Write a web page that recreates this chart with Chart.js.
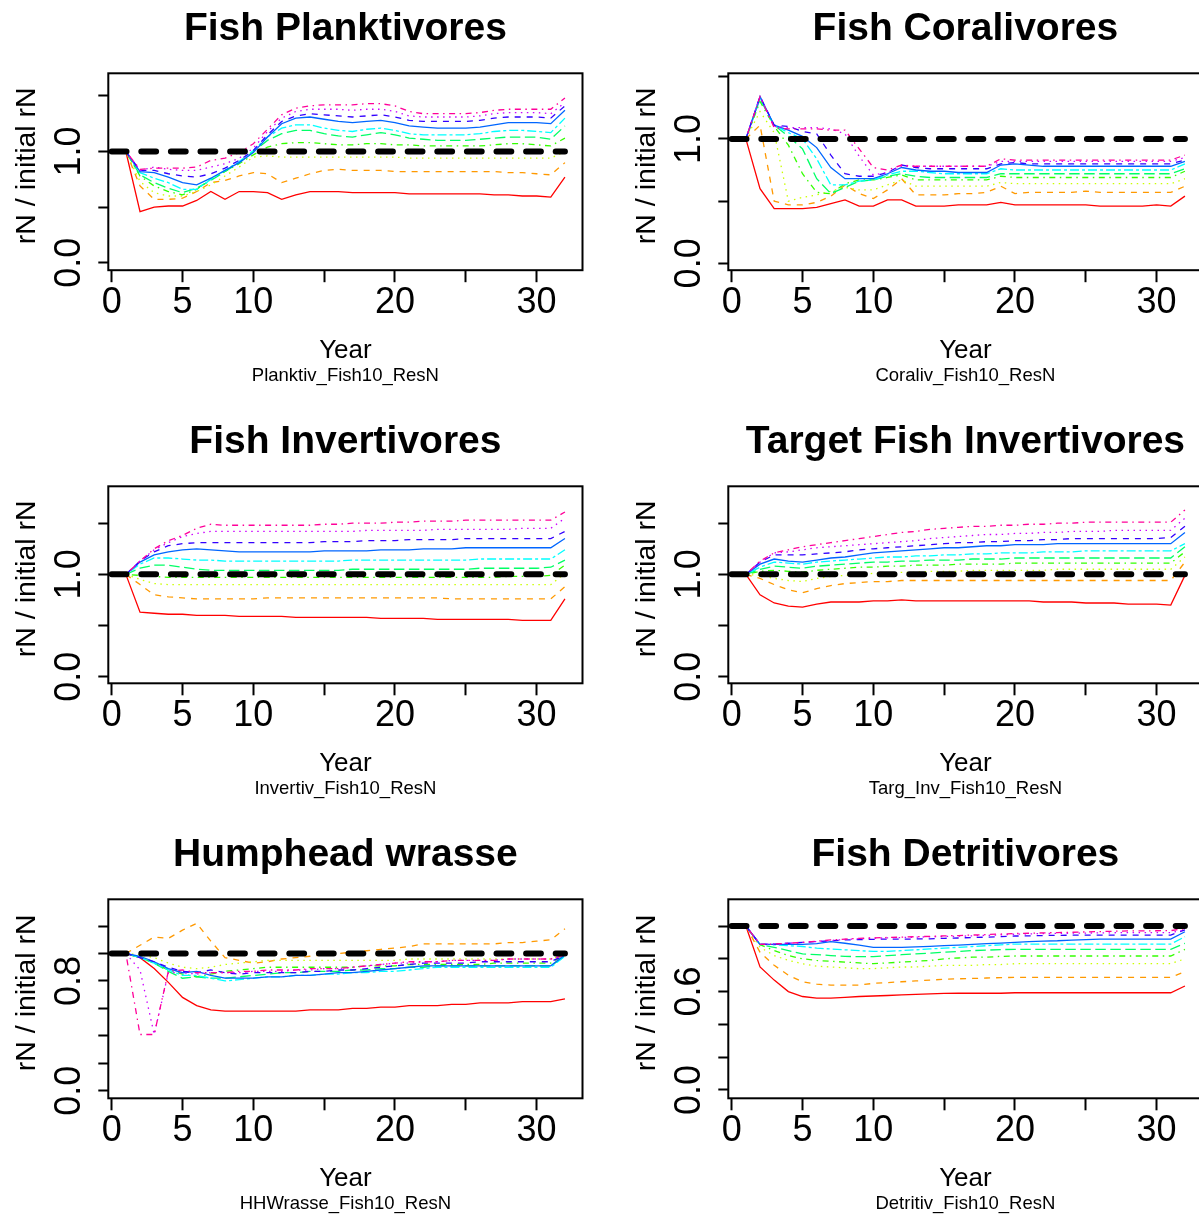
<!DOCTYPE html>
<html>
<head>
<meta charset="utf-8">
<script src="https://cdn.jsdelivr.net/npm/chart.js@4.4.1/dist/chart.umd.min.js"></script>
<style>
html,body{margin:0;padding:0;background:#fff;overflow:hidden;}
#wrap{position:relative;width:1199px;height:1215px;overflow:hidden;background:#fff;}
#wrap canvas{position:absolute;}
</style>
</head>
<body>
<div id="wrap"></div>
<script>
// ---------- data ----------
const years = [1,2,3,4,5,6,7,8,9,10,11,12,13,14,15,16,17,18,19,20,21,22,23,24,25,26,27,28,29,30,31,32];
const xTickLabels = [0, 5, 10, 20, 30];
const refX = [0, 32];
const refLevel = 1;

const planktivores = [
 [1.00,0.46,0.50,0.51,0.51,0.56,0.64,0.57,0.64,0.64,0.63,0.57,0.61,0.64,0.64,0.64,0.63,0.63,0.63,0.63,0.62,0.62,0.62,0.62,0.62,0.62,0.61,0.61,0.60,0.60,0.59,0.77],
 [1.00,0.69,0.57,0.57,0.58,0.64,0.72,0.74,0.78,0.81,0.80,0.72,0.76,0.80,0.83,0.84,0.83,0.83,0.83,0.82,0.82,0.82,0.82,0.82,0.82,0.82,0.82,0.81,0.81,0.80,0.79,0.90],
 [1.00,0.73,0.63,0.60,0.60,0.64,0.70,0.78,0.86,0.95,0.96,0.95,0.95,0.95,0.95,0.95,0.95,0.95,0.95,0.95,0.94,0.94,0.94,0.94,0.94,0.94,0.94,0.94,0.94,0.94,0.94,1.00],
 [1.00,0.78,0.69,0.64,0.61,0.66,0.75,0.82,0.89,0.97,1.04,1.07,1.08,1.08,1.07,1.06,1.06,1.07,1.07,1.06,1.06,1.05,1.05,1.05,1.05,1.05,1.06,1.07,1.07,1.06,1.05,1.12],
 [1.00,0.79,0.72,0.67,0.63,0.67,0.74,0.82,0.90,1.00,1.10,1.16,1.19,1.19,1.16,1.14,1.13,1.15,1.17,1.15,1.12,1.11,1.10,1.10,1.10,1.11,1.12,1.13,1.13,1.13,1.11,1.23],
 [1.00,0.81,0.76,0.72,0.66,0.66,0.75,0.83,0.91,1.01,1.13,1.21,1.24,1.24,1.21,1.19,1.18,1.20,1.21,1.19,1.16,1.15,1.15,1.15,1.15,1.16,1.18,1.19,1.19,1.18,1.17,1.30],
 [1.00,0.82,0.81,0.77,0.72,0.70,0.76,0.83,0.90,0.99,1.13,1.25,1.30,1.31,1.29,1.27,1.26,1.27,1.28,1.26,1.23,1.22,1.21,1.21,1.21,1.22,1.24,1.26,1.26,1.26,1.25,1.37],
 [1.00,0.83,0.83,0.80,0.78,0.77,0.80,0.85,0.92,1.01,1.15,1.27,1.32,1.34,1.33,1.32,1.31,1.32,1.33,1.31,1.28,1.27,1.27,1.27,1.27,1.28,1.30,1.31,1.31,1.31,1.30,1.41],
 [1.00,0.83,0.86,0.84,0.83,0.83,0.86,0.89,0.94,1.03,1.18,1.30,1.36,1.38,1.38,1.38,1.37,1.38,1.38,1.36,1.32,1.31,1.31,1.31,1.31,1.32,1.34,1.35,1.35,1.35,1.34,1.44],
 [1.00,0.84,0.85,0.85,0.85,0.86,0.92,0.94,0.99,1.07,1.20,1.33,1.39,1.41,1.42,1.42,1.42,1.43,1.43,1.41,1.36,1.34,1.34,1.34,1.34,1.35,1.37,1.38,1.38,1.38,1.38,1.48]
];

const coralivores = [
 [1.00,0.60,0.44,0.44,0.44,0.45,0.48,0.51,0.46,0.46,0.51,0.51,0.46,0.46,0.46,0.47,0.47,0.47,0.49,0.47,0.47,0.47,0.47,0.47,0.47,0.46,0.46,0.46,0.46,0.47,0.46,0.54],
 [1.00,1.11,0.50,0.47,0.47,0.49,0.54,0.63,0.56,0.52,0.59,0.68,0.55,0.55,0.55,0.56,0.56,0.57,0.62,0.56,0.57,0.57,0.57,0.57,0.58,0.57,0.57,0.57,0.57,0.57,0.57,0.62],
 [1.00,1.22,1.05,0.50,0.53,0.55,0.58,0.61,0.59,0.59,0.63,0.67,0.62,0.62,0.62,0.62,0.62,0.62,0.65,0.64,0.64,0.64,0.64,0.64,0.64,0.64,0.64,0.64,0.64,0.64,0.64,0.68],
 [1.00,1.30,1.10,0.95,0.72,0.57,0.56,0.64,0.67,0.67,0.69,0.71,0.67,0.67,0.67,0.67,0.67,0.67,0.70,0.69,0.69,0.69,0.69,0.69,0.69,0.69,0.69,0.69,0.69,0.69,0.69,0.74],
 [1.00,1.32,1.11,1.02,0.92,0.68,0.56,0.61,0.66,0.67,0.70,0.72,0.70,0.69,0.69,0.69,0.69,0.69,0.72,0.72,0.72,0.72,0.72,0.72,0.72,0.72,0.72,0.72,0.72,0.72,0.72,0.76],
 [1.00,1.33,1.11,1.05,1.00,0.84,0.63,0.63,0.66,0.67,0.71,0.74,0.74,0.73,0.72,0.72,0.72,0.72,0.76,0.75,0.75,0.75,0.75,0.75,0.75,0.75,0.75,0.75,0.75,0.75,0.75,0.80],
 [1.00,1.34,1.11,1.07,1.02,0.93,0.77,0.68,0.68,0.68,0.72,0.77,0.75,0.74,0.74,0.73,0.73,0.73,0.79,0.80,0.79,0.78,0.78,0.78,0.78,0.78,0.78,0.78,0.78,0.78,0.78,0.82],
 [1.00,1.34,1.11,1.10,1.06,1.04,0.87,0.72,0.70,0.70,0.73,0.79,0.77,0.76,0.76,0.76,0.76,0.76,0.80,0.81,0.80,0.80,0.80,0.80,0.80,0.80,0.80,0.80,0.80,0.80,0.80,0.83],
 [1.00,1.34,1.10,1.09,1.09,1.09,1.08,1.04,0.86,0.71,0.73,0.78,0.78,0.78,0.78,0.78,0.78,0.78,0.82,0.82,0.82,0.82,0.82,0.82,0.82,0.82,0.82,0.82,0.82,0.82,0.82,0.85],
 [1.00,1.34,1.09,1.08,1.08,1.08,1.07,1.07,0.92,0.77,0.75,0.79,0.78,0.78,0.78,0.78,0.78,0.78,0.84,0.83,0.83,0.83,0.83,0.83,0.83,0.83,0.83,0.83,0.83,0.83,0.83,0.87]
];

const invertivores = [
 [1.00,0.63,0.62,0.61,0.61,0.60,0.60,0.60,0.59,0.59,0.59,0.59,0.58,0.58,0.58,0.58,0.58,0.58,0.57,0.57,0.57,0.57,0.56,0.56,0.56,0.56,0.56,0.56,0.55,0.55,0.55,0.76],
 [1.00,0.90,0.80,0.78,0.77,0.76,0.76,0.76,0.76,0.76,0.77,0.77,0.77,0.77,0.77,0.77,0.77,0.77,0.77,0.77,0.77,0.77,0.77,0.76,0.76,0.76,0.76,0.76,0.76,0.76,0.76,0.88],
 [1.00,0.95,0.91,0.90,0.90,0.90,0.90,0.90,0.90,0.90,0.90,0.90,0.90,0.90,0.90,0.90,0.90,0.90,0.90,0.90,0.90,0.90,0.90,0.90,0.90,0.90,0.90,0.90,0.90,0.90,0.90,1.01],
 [1.00,0.99,0.98,0.97,0.97,0.97,0.97,0.97,0.97,0.97,0.97,0.97,0.97,0.97,0.97,0.97,0.97,0.97,0.97,0.97,0.97,0.97,0.97,0.97,0.97,0.97,0.97,0.98,0.98,0.98,0.99,1.09],
 [1.00,1.06,1.09,1.09,1.07,1.05,1.04,1.04,1.04,1.04,1.04,1.04,1.04,1.04,1.04,1.04,1.05,1.05,1.05,1.05,1.05,1.05,1.05,1.05,1.05,1.06,1.06,1.06,1.06,1.06,1.07,1.14],
 [1.00,1.10,1.16,1.16,1.15,1.14,1.14,1.13,1.13,1.13,1.13,1.13,1.13,1.13,1.13,1.13,1.14,1.14,1.14,1.14,1.14,1.14,1.14,1.14,1.14,1.15,1.15,1.15,1.15,1.15,1.15,1.24],
 [1.00,1.12,1.19,1.22,1.24,1.25,1.24,1.23,1.22,1.22,1.22,1.22,1.22,1.22,1.23,1.23,1.23,1.23,1.24,1.24,1.24,1.25,1.25,1.25,1.26,1.26,1.26,1.26,1.26,1.26,1.26,1.35],
 [1.00,1.13,1.22,1.28,1.30,1.31,1.31,1.31,1.31,1.31,1.31,1.31,1.31,1.31,1.32,1.32,1.32,1.33,1.33,1.33,1.34,1.34,1.34,1.34,1.35,1.35,1.35,1.35,1.35,1.35,1.35,1.42],
 [1.00,1.13,1.24,1.31,1.37,1.40,1.42,1.42,1.42,1.42,1.42,1.42,1.42,1.42,1.42,1.42,1.42,1.43,1.43,1.43,1.43,1.43,1.44,1.44,1.44,1.44,1.44,1.44,1.45,1.45,1.45,1.55],
 [1.00,1.13,1.25,1.33,1.38,1.45,1.49,1.48,1.48,1.48,1.48,1.48,1.48,1.48,1.49,1.49,1.50,1.50,1.50,1.51,1.51,1.52,1.52,1.52,1.53,1.53,1.53,1.53,1.53,1.53,1.53,1.61]
];

const targetInvertivores = [
 [1.00,0.80,0.72,0.69,0.68,0.71,0.73,0.73,0.73,0.74,0.74,0.75,0.74,0.74,0.74,0.74,0.74,0.74,0.74,0.74,0.74,0.73,0.73,0.73,0.72,0.72,0.72,0.71,0.71,0.71,0.70,0.99],
 [1.00,0.96,0.90,0.85,0.82,0.86,0.89,0.91,0.92,0.93,0.93,0.94,0.94,0.94,0.94,0.94,0.94,0.94,0.94,0.94,0.94,0.94,0.94,0.94,0.94,0.94,0.94,0.94,0.94,0.94,0.94,1.12],
 [1.00,0.99,0.96,0.94,0.93,0.96,0.98,0.99,1.00,1.01,1.01,1.02,1.02,1.03,1.03,1.03,1.04,1.04,1.04,1.04,1.04,1.04,1.05,1.05,1.05,1.05,1.05,1.05,1.05,1.05,1.05,1.17],
 [1.00,1.03,1.04,1.03,1.02,1.04,1.05,1.06,1.07,1.07,1.08,1.08,1.09,1.09,1.09,1.10,1.10,1.10,1.10,1.11,1.11,1.11,1.11,1.11,1.11,1.11,1.11,1.11,1.11,1.11,1.11,1.22],
 [1.00,1.05,1.08,1.07,1.06,1.08,1.09,1.10,1.11,1.12,1.12,1.13,1.13,1.14,1.14,1.14,1.15,1.15,1.15,1.16,1.16,1.16,1.16,1.16,1.16,1.16,1.16,1.16,1.16,1.16,1.16,1.27],
 [1.00,1.07,1.12,1.11,1.10,1.12,1.13,1.14,1.15,1.16,1.17,1.17,1.18,1.18,1.19,1.19,1.20,1.20,1.21,1.21,1.21,1.22,1.22,1.22,1.23,1.23,1.23,1.23,1.23,1.23,1.23,1.30],
 [1.00,1.10,1.15,1.13,1.12,1.14,1.16,1.17,1.19,1.21,1.22,1.23,1.24,1.25,1.26,1.26,1.27,1.28,1.28,1.29,1.29,1.29,1.30,1.30,1.30,1.30,1.30,1.30,1.30,1.30,1.30,1.41],
 [1.00,1.12,1.19,1.19,1.19,1.20,1.21,1.22,1.24,1.25,1.26,1.27,1.28,1.29,1.30,1.31,1.31,1.32,1.32,1.33,1.33,1.34,1.34,1.35,1.35,1.35,1.35,1.35,1.35,1.35,1.36,1.47],
 [1.00,1.12,1.21,1.22,1.24,1.26,1.27,1.28,1.29,1.30,1.31,1.32,1.33,1.35,1.36,1.37,1.38,1.39,1.39,1.40,1.40,1.41,1.41,1.42,1.42,1.42,1.43,1.43,1.43,1.43,1.43,1.55],
 [1.00,1.13,1.21,1.24,1.27,1.29,1.31,1.33,1.35,1.37,1.39,1.41,1.42,1.44,1.45,1.46,1.47,1.47,1.48,1.48,1.49,1.49,1.50,1.50,1.51,1.51,1.51,1.51,1.51,1.51,1.51,1.63]
];

const humpheadWrasse = [
 [1.00,0.97,0.89,0.79,0.68,0.62,0.59,0.58,0.58,0.58,0.58,0.58,0.58,0.59,0.59,0.59,0.60,0.60,0.61,0.61,0.62,0.62,0.62,0.63,0.63,0.64,0.64,0.64,0.65,0.65,0.65,0.67],
 [1.00,1.06,1.12,1.11,1.17,1.22,1.09,0.97,0.95,0.93,0.94,0.96,0.97,0.98,0.99,1.00,1.01,1.02,1.03,1.04,1.05,1.07,1.07,1.07,1.07,1.07,1.07,1.08,1.08,1.09,1.10,1.18],
 [1.00,0.99,0.97,0.93,0.90,0.89,0.90,0.92,0.93,0.94,0.95,0.95,0.95,0.95,0.95,0.95,0.95,0.95,0.95,0.95,0.96,0.96,0.96,0.96,0.96,0.96,0.96,0.96,0.96,0.96,0.96,0.99],
 [1.00,0.97,0.93,0.88,0.85,0.83,0.85,0.87,0.88,0.89,0.90,0.90,0.90,0.90,0.90,0.90,0.90,0.91,0.91,0.91,0.92,0.92,0.92,0.92,0.92,0.92,0.93,0.93,0.93,0.93,0.93,0.99],
 [1.00,0.97,0.93,0.87,0.82,0.83,0.82,0.82,0.83,0.84,0.85,0.86,0.86,0.87,0.87,0.87,0.88,0.88,0.89,0.89,0.90,0.90,0.91,0.91,0.91,0.91,0.91,0.91,0.91,0.91,0.91,0.98],
 [1.00,0.97,0.93,0.88,0.84,0.84,0.82,0.80,0.81,0.82,0.83,0.83,0.84,0.84,0.85,0.85,0.86,0.86,0.87,0.87,0.88,0.89,0.90,0.90,0.90,0.90,0.90,0.90,0.90,0.90,0.90,0.98],
 [1.00,0.98,0.94,0.89,0.86,0.87,0.84,0.82,0.82,0.82,0.83,0.83,0.84,0.84,0.85,0.86,0.86,0.87,0.88,0.89,0.90,0.91,0.91,0.91,0.91,0.91,0.91,0.91,0.91,0.91,0.91,0.99],
 [1.00,0.97,0.94,0.90,0.87,0.86,0.88,0.86,0.85,0.86,0.86,0.86,0.86,0.87,0.87,0.88,0.88,0.89,0.90,0.91,0.92,0.93,0.93,0.93,0.93,0.94,0.94,0.94,0.94,0.94,0.94,0.99],
 [1.00,0.88,0.41,0.86,0.86,0.85,0.86,0.86,0.86,0.87,0.87,0.87,0.88,0.88,0.89,0.89,0.90,0.91,0.92,0.93,0.93,0.94,0.94,0.95,0.95,0.95,0.95,0.96,0.96,0.96,0.96,0.99],
 [1.00,0.41,0.41,0.87,0.88,0.86,0.86,0.86,0.87,0.87,0.88,0.88,0.88,0.89,0.89,0.89,0.90,0.91,0.92,0.93,0.94,0.94,0.94,0.95,0.95,0.95,0.95,0.96,0.96,0.96,0.96,0.99]
];

const detritivores = [
 [1.00,0.75,0.67,0.60,0.57,0.56,0.56,0.565,0.57,0.573,0.576,0.58,0.583,0.586,0.589,0.59,0.59,0.59,0.59,0.593,0.593,0.593,0.593,0.593,0.593,0.593,0.593,0.593,0.593,0.593,0.593,0.634],
 [1.00,0.84,0.76,0.70,0.66,0.645,0.64,0.64,0.64,0.65,0.655,0.66,0.665,0.67,0.675,0.678,0.68,0.683,0.685,0.687,0.687,0.687,0.687,0.687,0.687,0.687,0.687,0.687,0.687,0.687,0.687,0.722],
 [1.00,0.87,0.82,0.79,0.77,0.755,0.75,0.745,0.74,0.74,0.745,0.75,0.75,0.755,0.76,0.76,0.76,0.765,0.765,0.77,0.77,0.77,0.77,0.77,0.77,0.77,0.77,0.77,0.77,0.77,0.77,0.80],
 [1.00,0.886,0.85,0.82,0.80,0.79,0.785,0.78,0.775,0.77,0.775,0.78,0.785,0.79,0.80,0.805,0.81,0.81,0.815,0.817,0.817,0.817,0.817,0.817,0.817,0.817,0.817,0.817,0.817,0.817,0.817,0.858],
 [1.00,0.886,0.87,0.85,0.83,0.825,0.82,0.815,0.813,0.813,0.82,0.825,0.83,0.835,0.84,0.845,0.85,0.853,0.856,0.858,0.858,0.858,0.858,0.858,0.858,0.858,0.858,0.858,0.858,0.858,0.858,0.894],
 [1.00,0.888,0.885,0.88,0.875,0.865,0.86,0.855,0.85,0.845,0.845,0.85,0.855,0.86,0.865,0.87,0.875,0.88,0.885,0.89,0.89,0.89,0.89,0.89,0.89,0.89,0.89,0.89,0.89,0.89,0.89,0.935],
 [1.00,0.888,0.888,0.888,0.888,0.892,0.905,0.895,0.884,0.87,0.87,0.87,0.873,0.876,0.88,0.884,0.888,0.892,0.896,0.90,0.905,0.908,0.91,0.914,0.917,0.92,0.92,0.92,0.92,0.92,0.92,0.965],
 [1.00,0.888,0.89,0.895,0.90,0.905,0.91,0.915,0.917,0.919,0.92,0.92,0.921,0.922,0.925,0.927,0.93,0.932,0.935,0.939,0.94,0.942,0.943,0.944,0.945,0.945,0.945,0.945,0.945,0.945,0.945,0.976],
 [1.00,0.888,0.89,0.895,0.90,0.905,0.912,0.918,0.922,0.925,0.928,0.93,0.932,0.934,0.936,0.938,0.94,0.943,0.946,0.95,0.952,0.954,0.955,0.956,0.957,0.958,0.959,0.96,0.96,0.96,0.96,0.976],
 [1.00,0.888,0.89,0.895,0.90,0.908,0.915,0.92,0.925,0.928,0.93,0.932,0.935,0.937,0.94,0.942,0.945,0.948,0.951,0.954,0.956,0.958,0.96,0.962,0.964,0.966,0.968,0.97,0.97,0.971,0.972,0.984]
];

// ---------- styles ----------
const seriesColors = ['#FF0000','#FF9900','#CCFF00','#33FF00','#00FF66','#00FFFF','#0066FF','#3300FF','#CC00FF','#FF0099'];
const ltySolid = [], ltyDashed = [6,6], ltyDotted = [1.5,4.5], ltyDotDash = [1.5,4.5,6,4.5], ltyLongDash = [10.5,4.5], ltyTwoDash = [3,3,9,3];
const seriesDash = [ltySolid, ltyDashed, ltyDotted, ltyDotDash, ltyLongDash, ltyTwoDash, ltySolid, ltyDashed, ltyDotted, ltyDotDash];

const FONT = '"Liberation Sans", Arial, Helvetica, sans-serif';
const CW = 620, CH = 413;
const BOX_LEFT = 108.3, BOX_RIGHT = 582.5, BOX_TOP = 73.3;
const Y_TICK_LEN = 10, X_TICK_LEN = 12;

const panels = [
  {title:'Fish Planktivores', sub:'Planktiv_Fish10_ResN', values:planktivores, col:0, row:0, boxBottom:270.2, yMin:-0.067, yMax:1.703, yStep:0.5, yLabels:[0,1]},
  {title:'Fish Coralivores', sub:'Coraliv_Fish10_ResN', values:coralivores, col:1, row:0, boxBottom:270.2, yMin:-0.055, yMax:1.527, yStep:0.5, yLabels:[0,1]},
  {title:'Fish Invertivores', sub:'Invertiv_Fish10_ResN', values:invertivores, col:0, row:1, boxBottom:270.3, yMin:-0.065, yMax:1.861, yStep:0.5, yLabels:[0,1]},
  {title:'Target Fish Invertivores', sub:'Targ_Inv_Fish10_ResN', values:targetInvertivores, col:1, row:1, boxBottom:270.3, yMin:-0.065, yMax:1.861, yStep:0.5, yLabels:[0,1]},
  {title:'Humphead wrasse', sub:'HHWrasse_Fish10_ResN', values:humpheadWrasse, col:0, row:2, boxBottom:272.3, yMin:-0.055, yMax:1.395, yStep:0.2, yLabels:[0,0.8]},
  {title:'Fish Detritivores', sub:'Detritiv_Fish10_ResN', values:detritivores, col:1, row:2, boxBottom:272.3, yMin:-0.051, yMax:1.163, yStep:0.2, yLabels:[0,0.6]}
];

const rText = {
  id: 'rText',
  afterDraw(chart, args, opts) {
    const p = opts.panel;
    const {ctx, chartArea: a} = chart;
    const x = chart.scales.x, y = chart.scales.y;
    ctx.save();
    ctx.strokeStyle = '#000';
    ctx.lineWidth = 2;
    ctx.strokeRect(a.left, a.top, a.right - a.left, a.bottom - a.top);
    const cx = (a.left + a.right) / 2;
    ctx.fillStyle = '#000';
    ctx.textAlign = 'center';
    ctx.textBaseline = 'alphabetic';
    ctx.font = 'bold 39px ' + FONT;
    ctx.fillText(p.title, cx, a.top - 33);
    ctx.font = '36px ' + FONT;
    xTickLabels.forEach(v => ctx.fillText(String(v), x.getPixelForValue(v), a.bottom + 43));
    ctx.font = '26px ' + FONT;
    ctx.fillText('Year', cx, a.bottom + 88);
    ctx.font = '18.5px ' + FONT;
    ctx.fillText(p.sub, cx, a.bottom + 111);
    ctx.font = '36px ' + FONT;
    p.yLabels.forEach(v => {
      ctx.save();
      ctx.translate(a.left - 28.3, y.getPixelForValue(v));
      ctx.rotate(-Math.PI / 2);
      ctx.fillText(v.toFixed(1), 0, 0);
      ctx.restore();
    });
    ctx.font = '28.5px ' + FONT;
    ctx.save();
    ctx.translate(a.left - 73.3, (a.top + a.bottom) / 2 - 6);
    ctx.rotate(-Math.PI / 2);
    ctx.fillText('rN / initial rN', 0, 0);
    ctx.restore();
    ctx.restore();
  }
};

const wrap = document.getElementById('wrap');
panels.forEach(p => {
  const cv = document.createElement('canvas');
  cv.width = CW; cv.height = CH;
  cv.style.width = CW + 'px'; cv.style.height = CH + 'px';
  cv.style.left = (p.col * CW) + 'px';
  cv.style.top = (p.row * CH) + 'px';
  wrap.appendChild(cv);

  const datasets = [{
    data: refX.map(v => ({x: v, y: refLevel})),
    borderColor: '#000', borderWidth: 6, borderDash: [14.8, 14.8], borderCapStyle: 'round',
    pointRadius: 0, order: 0
  }];
  p.values.forEach((vals, i) => {
    datasets.push({
      data: years.map((yr, j) => ({x: yr, y: vals[j]})),
      borderColor: seriesColors[i], borderWidth: 1.3, borderDash: seriesDash[i],
      pointRadius: 0, order: 10 - i
    });
  });

  new Chart(cv.getContext('2d'), {
    type: 'line',
    data: {datasets},
    options: {
      responsive: false, animation: false, devicePixelRatio: 1,
      layout: {padding: {left: BOX_LEFT - Y_TICK_LEN, right: CW - BOX_RIGHT, top: BOX_TOP, bottom: CH - p.boxBottom - X_TICK_LEN}},
      plugins: {legend: {display: false}, title: {display: false}, tooltip: {enabled: false}, rText: {panel: p}},
      elements: {line: {tension: 0, fill: false}, point: {radius: 0}},
      scales: {
        x: {type: 'linear', min: -0.24, max: 33.24,
            ticks: {display: false, stepSize: 5, includeBounds: false},
            grid: {display: true, drawOnChartArea: false, drawTicks: true, tickLength: X_TICK_LEN, tickWidth: 2, tickColor: '#000'},
            border: {display: false}},
        y: {type: 'linear', min: p.yMin, max: p.yMax,
            ticks: {display: false, stepSize: p.yStep, includeBounds: false},
            grid: {display: true, drawOnChartArea: false, drawTicks: true, tickLength: Y_TICK_LEN, tickWidth: 2, tickColor: '#000'},
            border: {display: false}}
      }
    },
    plugins: [rText]
  });
});
</script>
</body>
</html>
